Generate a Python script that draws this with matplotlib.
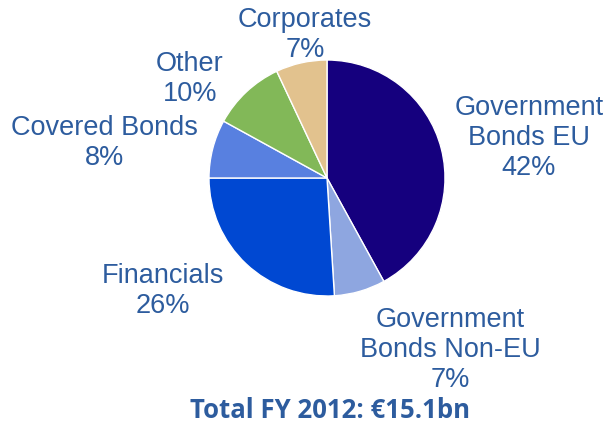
import matplotlib.pyplot as plt

labels = ["Government\nBonds EU", "Government\nBonds Non-EU", "Financials",
          "Covered Bonds", "Other", "Corporates"]
shares = [42, 7, 26, 8, 10, 7]
colors = ["#15007e", "#8ea6e0", "#0048d2", "#5880e0", "#82b858", "#e2c28e"]
# label anchor: pixel x of centre, pixel y of the last (percent) baseline
label_pos = [(529, 175), (450, 387), (163, 313), (104, 165), (190, 101), (305, 57)]
title = "Total FY 2012: \u20ac15.1bn"

text_color = "#2d5c9e"
W, H = 609, 426

fig = plt.figure(figsize=(W / 100, H / 100), dpi=100)
ax = fig.add_axes([0, 0, 1, 1])

ax.pie(shares, colors=colors, startangle=90, counterclock=False,
       center=(327, H - 178), radius=118, frame=True,
       wedgeprops={"edgecolor": "white", "linewidth": 1.0})
ax.set_xlim(0, W)
ax.set_ylim(0, H)
ax.set_aspect("equal")
ax.axis("off")

for lab, pct, (px, py) in zip(labels, shares, label_pos):
    ax.text(px, H - py, f"{lab}\n{pct}%", ha="center", va="baseline",
            fontsize=19.5, color=text_color, family="Liberation Sans",
            linespacing=1.2)

ax.text(330, H - 418, title, ha="center", va="baseline", fontsize=18.5,
        fontweight="bold", color=text_color, family="Open Sans")

fig.savefig("out.png", dpi=100)
